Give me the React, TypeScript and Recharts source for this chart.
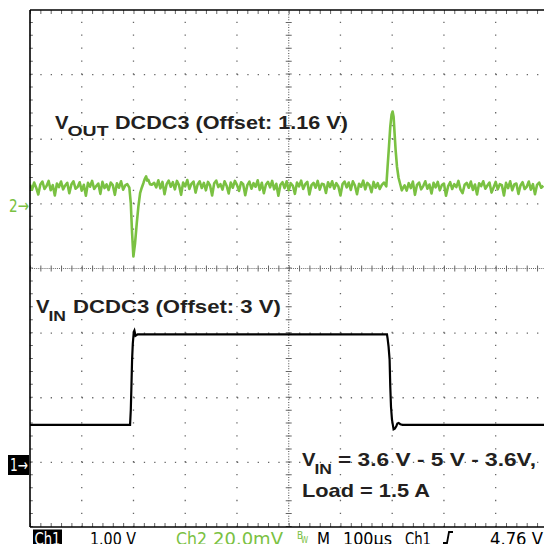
import React from "react";
import { LineChart, Line, XAxis, YAxis, ReferenceLine } from "recharts";

// Time axis in microseconds (100 us/div, 10 divisions on screen)
const T_STEP = 4;
// Ch2 (VOUT, 20 mV/div, offset 1.16 V) - deviation from offset in mV
const ch2NoiseA = [
  5.9, 4.4, 6.6, 5.0, 2.9, 6.0, 6.9, 4.6, 5.5, 7.1,
  4.2, 5.8, 2.6, 6.3, 5.2, 6.9, 4.5, 5.7, 6.5, 3.3,
  6.0, 7.0, 4.7, 5.2, 6.7, 4.1, 5.9, 2.5, 6.5, 5.3,
  7.1, 4.6, 5.5, 6.3, 3.1, 6.8, 4.9, 6.0, 4.3, 6.6,
  5.8, 2.8, 6.4, 5.0, 7.0, 4.4, 5.7, 6.1,
];
const ch2NoiseAStart = 0;
const ch2Dip: [number, number][] = [
  [192, 5.0], [194.8, 0.2], [197.3, -9.0], [199.8, -16.3], [203.1, -12.1],
  [206.4, -5.9], [209.5, -0.8], [212.8, 3.3], [216, 5.0], [219.1, 6.4],
  [221.5, 7.6], [224.4, 8.5], [226.5, 7.2], [228.8, 7.4], [232, 6.1], [235.4, 5.9],
];
const ch2NoiseB = [
  6.5, 5.1, 7.3, 4.8, 6.8, 3.0, 6.1, 7.2, 5.3, 6.7,
  4.5, 7.1, 5.8, 2.8, 6.6, 5.4, 7.4, 4.6, 6.2, 6.9,
  3.5, 6.0, 7.0, 4.9, 6.5, 4.2, 6.8, 5.7, 2.6, 6.4,
  7.2, 5.2, 6.1, 4.4, 7.0, 5.6, 3.2, 6.6, 5.0, 7.1,
  5.9, 4.0, 6.7, 6.1, 2.7, 5.8, 6.9, 4.7, 6.4, 5.3,
  7.3, 4.3, 6.5, 3.3, 6.0, 6.8, 5.1, 7.1, 4.5, 6.2,
  2.5, 5.9, 6.7, 4.9, 7.0, 4.2, 6.4, 5.6, 3.1, 6.6,
  5.4, 7.2, 4.6, 6.1, 6.8, 2.9, 5.8, 6.5, 5.0, 7.1,
  4.4, 6.2, 6.0, 3.4, 6.7, 5.2, 7.0, 4.7, 6.4, 5.4,
  2.6, 6.1, 6.9, 5.1, 6.6, 4.3, 7.0, 5.7, 3.0, 6.2,
  5.3, 7.2, 4.5, 6.5, 5.8, 3.6, 6.8, 5.0, 6.4, 4.6,
  5.9, 6.6,
];
const ch2NoiseBStart = 240;
const ch2Spike: [number, number][] = [
  [688.6, 5.4], [691.1, 11.5], [693.8, 17.7], [696.3, 23.9], [698.8, 27.6],
  [700.8, 28.6], [702.7, 27.0], [704.6, 21.9], [706.6, 16.7], [709.3, 11.5],
  [712.4, 8.0], [715.7, 6.0], [718.5, 4.2], [720.9, 4.9],
];
const ch2NoiseC = [
  5.7, 4.1, 6.4, 4.9, 6.9, 2.8, 5.9, 6.6, 4.5, 5.5,
  7.0, 4.7, 6.0, 3.2, 6.5, 5.1, 6.8, 4.2, 5.8, 6.3,
  2.5, 5.4, 6.7, 4.6, 6.1, 5.2, 7.1, 4.4, 3.3, 5.9,
  6.5, 5.0, 6.9, 4.3, 6.0, 2.9, 6.4, 5.5, 7.0, 4.7,
  5.7, 6.6, 3.5, 5.1, 6.8, 4.5, 6.1, 5.8, 2.6, 6.5,
  4.9, 7.0, 4.2, 6.0, 6.3, 3.1, 5.7, 6.7, 4.6, 5.3,
  6.9, 4.4, 6.1, 3.0, 5.9, 6.6, 5.0, 5.6,
];
const ch2NoiseCStart = 724;

// Ch1 (VIN, 1 V/div, offset 3 V) - volts
const ch1Points: [number, number][] = [
  [0, 3.58], [193.4, 3.58], [194.8, 3.81], [196, 4.17], [197.3, 4.59],
  [198.7, 4.84], [200.6, 5.02], [201.8, 5.04], [204, 4.96], [206, 4.97],
  [208, 4.98], [689.9, 4.98], [691.1, 4.92], [693, 4.79], [695, 4.59],
  [696.3, 4.17], [697.7, 3.86], [699.6, 3.66], [702.7, 3.51], [705, 3.52],
  [707.9, 3.56], [710, 3.6], [712.4, 3.61], [715.7, 3.59], [720, 3.58],
  [993.4, 3.58],
];

const X_DOMAIN: [number, number] = [0, 993.4];
const CH1_DOMAIN: [number, number] = [2, 10];
const CH2_DOMAIN: [number, number] = [-100, 60];
const gridTimes = [100, 200, 300, 400, 600, 700, 800, 900];
const gridVolts = [3, 4, 5, 7, 8, 9];
const centerTime = 500;
const centerVolt = 6;

const noiseToPts = (vals: number[], start: number) =>
  vals.map((v, i) => ({ t: start + i * T_STEP, v }));
const pairsToPts = (p: [number, number][]) => p.map(([t, v]) => ({ t, v }));

const ch2Data = [
  ...noiseToPts(ch2NoiseA, ch2NoiseAStart),
  ...pairsToPts(ch2Dip),
  ...noiseToPts(ch2NoiseB, ch2NoiseBStart),
  ...pairsToPts(ch2Spike),
  ...noiseToPts(ch2NoiseC, ch2NoiseCStart),
];
const ch1Data = pairsToPts(ch1Points);

const GREEN = "#7ac142";
const GRID = "#666";
const TXT = "#231f20";
const boldFont = "'Liberation Sans', Arial, sans-serif";
const scopeFont = "'DejaVu Sans Condensed', 'DejaVu Sans', sans-serif";
const SA = "spacingAndGlyphs";

export default function App() {
  return (
    <div
      style={{
        position: "fixed",
        left: 0,
        top: 0,
        width: 544,
        height: 544,
        overflow: "hidden",
        background: "#fff",
      }}
    >
      <LineChart
        width={544}
        height={544}
        margin={{ top: 10, left: 30, right: 0, bottom: 17 }}
      >
        <XAxis type="number" dataKey="t" domain={X_DOMAIN} allowDataOverflow hide />
        <YAxis yAxisId="ch1" type="number" domain={CH1_DOMAIN} allowDataOverflow hide />
        <YAxis yAxisId="ch2" type="number" domain={CH2_DOMAIN} allowDataOverflow hide />

        {gridTimes.map((t) => (
          <ReferenceLine key={"gx" + t} x={t} yAxisId="ch1" stroke={GRID} strokeWidth={1.3} strokeDasharray="1.3 11.625" />
        ))}
        {gridVolts.map((v) => (
          <ReferenceLine key={"gy" + v} y={v} yAxisId="ch1" stroke={GRID} strokeWidth={1.3} strokeDasharray="1.3 9.048" />
        ))}
        {/* center crosshair */}
        <ReferenceLine x={centerTime} yAxisId="ch1" stroke={GRID} strokeWidth={1.2} strokeDasharray="1 1.585" />
        <ReferenceLine x={centerTime} yAxisId="ch1" stroke={GRID} strokeWidth={6} strokeDasharray="1 11.925" />
        <ReferenceLine y={centerVolt} yAxisId="ch1" stroke={GRID} strokeWidth={1.2} strokeDasharray="1 1.07" />
        <ReferenceLine y={centerVolt} yAxisId="ch1" stroke={GRID} strokeWidth={6} strokeDasharray="1 9.348" />
        {/* border ticks */}
        <ReferenceLine y={9.97} yAxisId="ch1" stroke={GRID} strokeWidth={4} strokeDasharray="1 9.348" />
        <ReferenceLine y={2.03} yAxisId="ch1" stroke={GRID} strokeWidth={4} strokeDasharray="1 9.348" />
        <ReferenceLine x={2.6} yAxisId="ch1" stroke={GRID} strokeWidth={3} strokeDasharray="1 11.925" />

        <Line
          yAxisId="ch2"
          data={ch2Data}
          dataKey="v"
          type="linear"
          stroke={GREEN}
          strokeWidth={2.6}
          strokeLinejoin="round"
          dot={false}
          isAnimationActive={false}
        />
        <Line
          yAxisId="ch1"
          data={ch1Data}
          dataKey="v"
          type="linear"
          stroke="#000"
          strokeWidth={2.2}
          dot={false}
          isAnimationActive={false}
        />

        {/* frame */}
        <ReferenceLine x={0} yAxisId="ch1" stroke="#000" strokeWidth={1.6} />
        <ReferenceLine y={10} yAxisId="ch1" stroke="#000" strokeWidth={1.6} />
        <ReferenceLine y={2} yAxisId="ch1" stroke="#000" strokeWidth={1.6} />
      </LineChart>

      <svg
        width={544}
        height={544}
        style={{ position: "absolute", left: 0, top: 0, pointerEvents: "none" }}
      >
        {/* Titles (glyphs slightly stretched horizontally like the source) */}
        <text fontFamily={boldFont} fontWeight="bold" fill={TXT}>
          <tspan x={55} y={128.5} fontSize={18.5} textLength={13.5} lengthAdjust={SA}>V</tspan>
          <tspan x={67.5} y={136} fontSize={15.5} textLength={41} lengthAdjust={SA}>OUT</tspan>
          <tspan x={115} y={128.5} fontSize={18.5} textLength={233} lengthAdjust={SA}>DCDC3 (Offset: 1.16 V)</tspan>
        </text>
        <text fontFamily={boldFont} fontWeight="bold" fill={TXT}>
          <tspan x={36} y={313} fontSize={18.5} textLength={13.5} lengthAdjust={SA}>V</tspan>
          <tspan x={48.5} y={320.5} fontSize={15.5} textLength={17.5} lengthAdjust={SA}>IN</tspan>
          <tspan x={73} y={313} fontSize={18.5} textLength={208} lengthAdjust={SA}>DCDC3 (Offset: 3 V)</tspan>
        </text>
        <text fontFamily={boldFont} fontWeight="bold" fill={TXT}>
          <tspan x={302} y={466} fontSize={18.5} textLength={13.5} lengthAdjust={SA}>V</tspan>
          <tspan x={314.5} y={473.5} fontSize={15.5} textLength={17.5} lengthAdjust={SA}>IN</tspan>
          <tspan x={338} y={466} fontSize={18.5} textLength={198} lengthAdjust={SA}>= 3.6 V - 5 V - 3.6V,</tspan>
        </text>
        <text x={302} y={497} fontFamily={boldFont} fontWeight="bold" fontSize={18.5} fill={TXT} textLength={128} lengthAdjust={SA}>
          Load = 1.5 A
        </text>

        {/* channel markers */}
        <text x={9} y={211.5} fontFamily={scopeFont} fontSize={18} fill={GREEN} textLength={20} lengthAdjust={SA}>
          2→
        </text>
        <rect x={8} y={455} width={21} height={20} fill="#000" />
        <text x={10} y={470.5} fontFamily={scopeFont} fontSize={17} fill="#fff" textLength={18} lengthAdjust={SA}>
          1→
        </text>

        {/* status bar */}
        <rect x={33} y={529.5} width={29} height={15} fill="#000" />
        <text fontFamily={scopeFont} fontSize={18}>
          <tspan x={34.5} y={544.5} fill="#fff" textLength={26} lengthAdjust={SA}>Ch1</tspan>
          <tspan x={90} y={544.5} fill="#000" textLength={46} lengthAdjust={SA}>1.00 V</tspan>
          <tspan x={176} y={544.5} fill={GREEN} textLength={31} lengthAdjust={SA}>Ch2</tspan>
          <tspan x={213} y={544.5} fill={GREEN} textLength={70} lengthAdjust={SA}>20.0mV</tspan>
          <tspan x={317} y={544.5} fill="#000" textLength={13} lengthAdjust={SA}>M</tspan>
          <tspan x={343} y={544.5} fill="#000" textLength={49} lengthAdjust={SA}>100µs</tspan>
          <tspan x={405} y={544.5} fill="#000" textLength={26} lengthAdjust={SA}>Ch1</tspan>
          <tspan x={490} y={544.5} fill="#000" textLength={53} lengthAdjust={SA}>4.76 V</tspan>
        </text>
        <text fontFamily={scopeFont} fill={GREEN}>
          <tspan x={297} y={539} fontSize={10}>B</tspan>
          <tspan x={301} y={543} fontSize={8}>W</tspan>
        </text>
        <path d="M443 543 L447 543 L449 532 L453 532" stroke="#000" strokeWidth={1.8} fill="none" />
      </svg>
    </div>
  );
}
